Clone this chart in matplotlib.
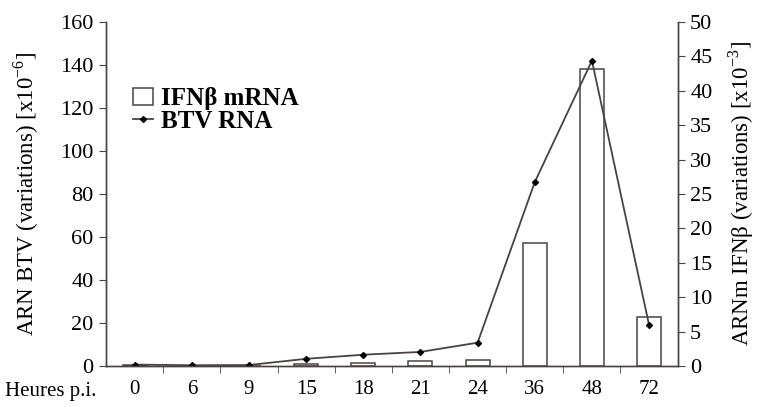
import matplotlib
matplotlib.use("Agg")
import matplotlib.pyplot as plt
from matplotlib.lines import Line2D
from matplotlib.patches import Patch
import numpy as np

plt.rcParams['font.family'] = ['Liberation Serif', 'DejaVu Serif']
plt.rcParams['mathtext.fontset'] = 'custom'
plt.rcParams['mathtext.rm'] = 'Liberation Serif'

heures = ['0', '6', '9', '15', '18', '21', '24', '36', '48', '72']
btv_rna = [0.6, 0.3, 0.4, 3.3, 5.2, 6.5, 10.8, 85.5, 142, 19]      # axe gauche (x10^-6)
ifnb_mrna = [0.1, 0.05, 0.05, 0.3, 0.35, 0.65, 0.85, 17.8, 43.2, 7.1]  # axe droit (x10^-3)

col = '#4a4242'

fig = plt.figure(figsize=(7.58, 4.07), dpi=100)
ax = fig.add_axes([0.14, 0.101, 0.754, 0.845])
ax2 = ax.twinx()
ax.set_zorder(ax2.get_zorder() + 1)
ax.patch.set_visible(False)

x = np.arange(len(heures))
ax2.bar(x, ifnb_mrna, width=0.42, facecolor='white', edgecolor=col, linewidth=1.1)
ax.plot(x, btv_rna, color=col, linewidth=1.3, marker='D', markersize=3,
        markerfacecolor='black', markeredgecolor='black')

ax.set_xlim(-0.5, len(heures) - 0.5)
ax.set_ylim(0, 160)
ax2.set_ylim(0, 50)
ax.set_yticks(np.arange(0, 161, 20))
ax2.set_yticks(np.arange(0, 51, 5))

ax.set_xticks(x)
ax.set_xticklabels(heures)
ax.set_xticks(np.arange(-0.5, len(heures), 1)[1:-1], minor=True)
ax.tick_params(axis='x', which='major', length=0, pad=10, labelsize=15)
ax.tick_params(axis='x', which='minor', length=5, direction='out', color=col)
ax.tick_params(axis='y', length=5, color=col, labelsize=16, pad=4)
ax2.tick_params(axis='y', length=5, color=col, labelsize=16, pad=4)

for a in (ax, ax2):
    a.spines['top'].set_visible(False)
    for s in ('left', 'right', 'bottom'):
        a.spines[s].set_color(col)
        a.spines[s].set_linewidth(1.0)

ax.set_ylabel(r'ARN BTV (variations) [x10$^{\mathrm{-6}}$]', fontsize=16.5, labelpad=14)
ax2.set_ylabel(r'ARNm IFNβ (variations) [x10$^{\mathrm{-3}}$]', fontsize=16.5, labelpad=10)

fig.text(0.007, 0.038, 'Heures p.i.', fontsize=15, ha='left', va='center')

handles = [Patch(facecolor='white', edgecolor=col, linewidth=1.1),
           Line2D([0], [0], color=col, linewidth=1.3, marker='D', markersize=3,
                  markerfacecolor='black', markeredgecolor='black')]
ax.legend(handles, ['IFNβ mRNA', 'BTV RNA'], loc='upper left',
          bbox_to_anchor=(0.03, 0.84), frameon=False,
          prop={'weight': 'bold', 'size': 18}, handlelength=0.8,
          handletextpad=0.3, labelspacing=0.0, borderaxespad=0)

fig.savefig('out.png', dpi=100)
